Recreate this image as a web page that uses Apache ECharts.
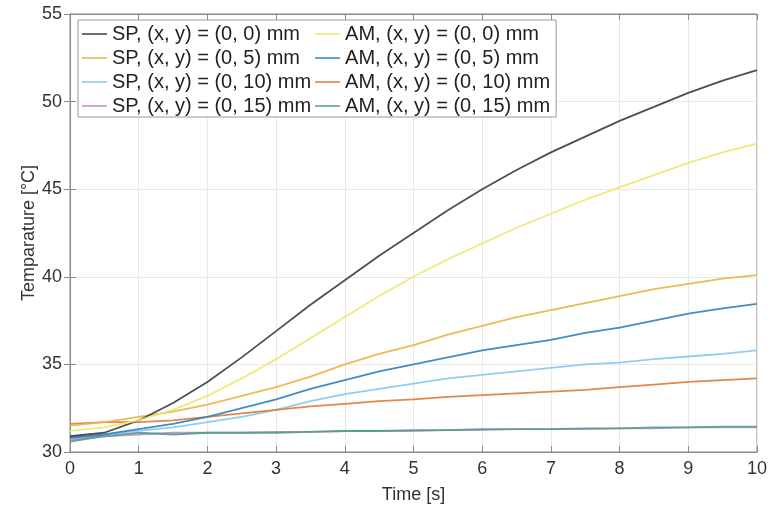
<!DOCTYPE html>
<html>
<head>
<meta charset="utf-8">
<script src="https://cdn.jsdelivr.net/npm/echarts@6/dist/echarts.min.js"></script>
<style>html,body{margin:0;padding:0;background:#fff;}#c{width:782px;height:509px;}</style>
</head>
<body>
<div id="c"></div>
<script>
// Time axis (s)
var timeS = [0,0.5,1,1.5,2,2.5,3,3.5,4,4.5,5,5.5,6,6.5,7,7.5,8,8.5,9,9.5,10];

// Temperatures [°C]
var sp0  = [30.9,31.1,31.8,32.8,34.0,35.4,36.9,38.4,39.8,41.2,42.5,43.8,45.0,46.1,47.1,48.0,48.9,49.7,50.5,51.2,51.8];
var am0  = [31.2,31.4,31.8,32.4,33.2,34.2,35.3,36.5,37.7,38.9,40.0,41.0,41.9,42.8,43.6,44.4,45.1,45.8,46.5,47.1,47.6];
var sp5  = [31.5,31.7,32.0,32.3,32.7,33.2,33.7,34.3,35.0,35.6,36.1,36.7,37.2,37.7,38.1,38.5,38.9,39.3,39.6,39.9,40.1];
var am5  = [30.8,31.0,31.3,31.6,32.0,32.5,33.0,33.6,34.1,34.6,35.0,35.4,35.8,36.1,36.4,36.8,37.1,37.5,37.9,38.2,38.45];
var sp10 = [30.9,31.0,31.2,31.4,31.7,32.0,32.4,32.9,33.3,33.6,33.9,34.2,34.4,34.6,34.8,35.0,35.1,35.3,35.45,35.6,35.8];
var am10 = [31.6,31.7,31.7,31.8,32.0,32.2,32.4,32.6,32.75,32.9,33.0,33.15,33.25,33.35,33.45,33.55,33.7,33.85,34.0,34.1,34.2];
var sp15 = [30.7,30.9,31.0,31.1,31.1,31.1,31.15,31.15,31.2,31.2,31.2,31.25,31.25,31.3,31.3,31.3,31.35,31.35,31.4,31.4,31.4];
var am15 = [30.6,30.9,31.1,31.0,31.1,31.1,31.1,31.15,31.2,31.2,31.25,31.25,31.3,31.3,31.3,31.35,31.35,31.4,31.4,31.45,31.45];

var seriesNames = [
  'SP, (x, y) = (0, 0) mm', 'SP, (x, y) = (0, 5) mm', 'SP, (x, y) = (0, 10) mm', 'SP, (x, y) = (0, 15) mm',
  'AM, (x, y) = (0, 0) mm', 'AM, (x, y) = (0, 5) mm', 'AM, (x, y) = (0, 10) mm', 'AM, (x, y) = (0, 15) mm'
];
var seriesValues = [sp0, sp5, sp10, sp15, am0, am5, am10, am15];
var seriesColors = ['#3c3c3c', '#e9b446', '#84c8ee', '#c98ac0', '#eee66e', '#2f7fbf', '#e07a3a', '#4e9e8e'];

var xTicks = [0,1,2,3,4,5,6,7,8,9,10];
var yTicks = [30,35,40,45,50,55];

var FONT = 'Liberation Sans';

function pairs(vals) {
  return timeS.map(function (t, i) { return [t, vals[i]]; });
}

var series = seriesNames.map(function (n, i) {
  return {
    name: n,
    type: 'line',
    symbol: 'none',
    data: pairs(seriesValues[i]),
    lineStyle: { width: 1.8, color: seriesColors[i], opacity: 0.9 },
    itemStyle: { color: seriesColors[i] },
    z: 10 - i % 4,
    animation: false
  };
});

var chart = echarts.init(document.getElementById('c'), null, { renderer: 'canvas' });
chart.setOption({
  backgroundColor: '#ffffff',
  animation: false,
  grid: { left: 70, right: 25, top: 14, bottom: 57, show: true, borderColor: '#8a8a8a', borderWidth: 1, backgroundColor: 'transparent' },
  legend: {
    orient: 'vertical',
    left: 78, top: 20,
    height: 100,
    padding: [4, 6, 1, 4],
    itemGap: 4,
    itemWidth: 25, itemHeight: 1.5,
    icon: 'rect',
    borderColor: '#9a9a9a', borderWidth: 1,
    backgroundColor: '#ffffff',
    data: seriesNames,
    textStyle: { fontFamily: FONT, fontSize: 20, color: '#222' }
  },
  xAxis: [{
    type: 'value', min: 0, max: 10, interval: 1,
    name: 'Time [s]', nameLocation: 'middle', nameGap: 34, nameMoveOverlap: false,
    nameTextStyle: { fontFamily: FONT, fontSize: 18, color: '#333' },
    axisLine: { show: true, lineStyle: { color: '#8a8a8a' } },
    axisTick: { show: true, inside: true, length: 6, lineStyle: { color: '#8a8a8a' } },
    axisLabel: { fontFamily: FONT, fontSize: 18, color: '#333', margin: 8 },
    splitLine: { show: true, lineStyle: { color: '#e8e8e8', width: 1 } }
  }, {
    type: 'value', min: 0, max: 10, interval: 1, position: 'top',
    axisLine: { show: true, lineStyle: { color: '#8a8a8a' } },
    axisTick: { show: true, inside: true, length: 6, lineStyle: { color: '#8a8a8a' } },
    axisLabel: { show: false }, splitLine: { show: false }
  }],
  yAxis: [{
    type: 'value', min: 30, max: 55, interval: 5,
    name: 'Temparature [°C]', nameLocation: 'middle', nameGap: 32, nameRotate: 90, nameMoveOverlap: false,
    nameTextStyle: { fontFamily: FONT, fontSize: 18, color: '#333' },
    axisLine: { show: true, lineStyle: { color: '#8a8a8a' } },
    axisTick: { show: true, inside: true, length: 6, lineStyle: { color: '#8a8a8a' } },
    axisLabel: { fontFamily: FONT, fontSize: 18, color: '#333', margin: 8 },
    splitLine: { show: true, lineStyle: { color: '#e8e8e8', width: 1 } }
  }, {
    type: 'value', min: 30, max: 55, interval: 5, position: 'right',
    axisLine: { show: true, lineStyle: { color: '#8a8a8a' } },
    axisTick: { show: true, inside: true, length: 6, lineStyle: { color: '#8a8a8a' } },
    axisLabel: { show: false }, splitLine: { show: false }
  }],
  series: series
});
</script>
</body>
</html>
